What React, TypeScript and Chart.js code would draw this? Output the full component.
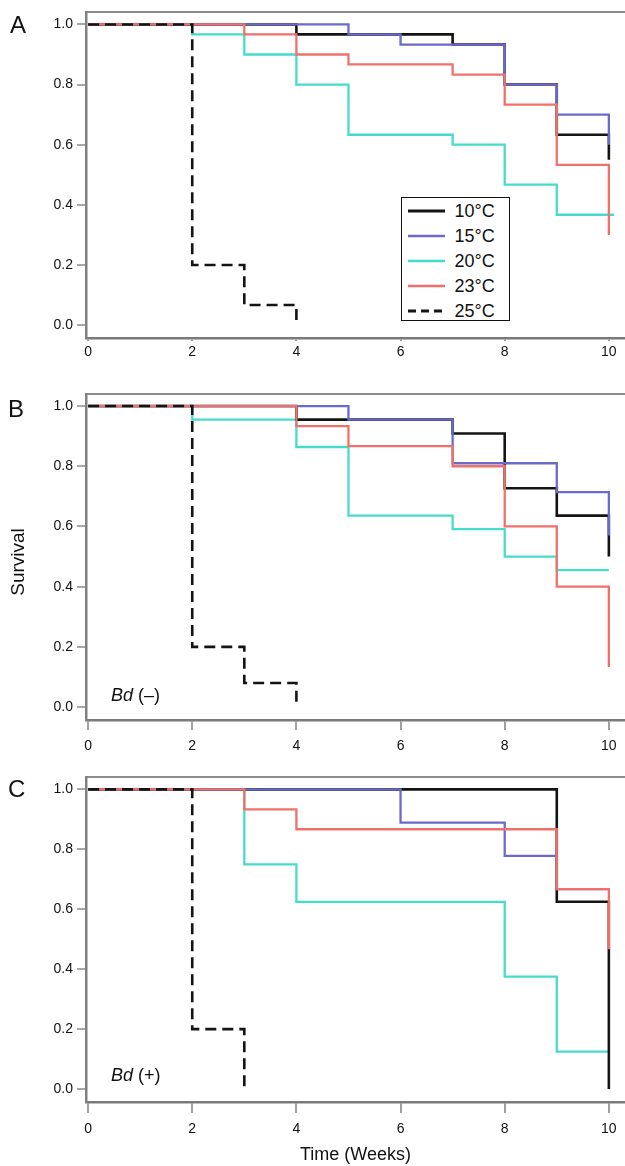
import React, { useEffect, useRef } from "react";
import { Chart, registerables } from "chart.js";

Chart.register(...registerables);

// ---------- data ----------
const seriesLabels = ["10°C", "15°C", "20°C", "23°C", "25°C"];
const seriesColors = ["#141414", "#6b69c9", "#46dccb", "#f0716b", "#141414"];

const xTicks = [0, 2, 4, 6, 8, 10];
const xTickLabels = ["0", "2", "4", "6", "8", "10"];
const yTicks = [0, 0.2, 0.4, 0.6, 0.8, 1.0];
const yTickLabels = ["0.0", "0.2", "0.4", "0.6", "0.8", "1.0"];

// Panel A
const weeksA10 = [0, 4, 7, 8, 9, 10];
const survA10 = [1, 0.967, 0.933, 0.8, 0.633, 0.55];
const weeksA15 = [0, 5, 6, 8, 9, 10];
const survA15 = [1, 0.967, 0.933, 0.8, 0.7, 0.6];
const weeksA20 = [0, 2, 3, 4, 5, 7, 8, 9, 10.1];
const survA20 = [1, 0.967, 0.9, 0.8, 0.633, 0.6, 0.467, 0.367, 0.367];
const weeksA23 = [0, 3, 4, 5, 7, 8, 9, 10];
const survA23 = [1, 0.967, 0.9, 0.867, 0.833, 0.733, 0.533, 0.3];
const weeksA25 = [0, 2, 3, 4];
const survA25 = [1, 0.2, 0.067, 0];

// Panel B  Bd (–)
const weeksB10 = [0, 4, 7, 8, 9, 10];
const survB10 = [1, 0.955, 0.909, 0.727, 0.636, 0.5];
const weeksB15 = [0, 5, 7, 9, 10];
const survB15 = [1, 0.955, 0.81, 0.714, 0.57];
const weeksB20 = [0, 2, 4, 5, 7, 8, 9, 10];
const survB20 = [1, 0.955, 0.864, 0.636, 0.591, 0.5, 0.455, 0.455];
const weeksB23 = [0, 4, 5, 7, 8, 9, 10];
const survB23 = [1, 0.933, 0.867, 0.8, 0.6, 0.4, 0.133];
const weeksB25 = [0, 2, 3, 4];
const survB25 = [1, 0.2, 0.08, 0];

// Panel C  Bd (+)
const weeksC10 = [0, 9, 10];
const survC10 = [1, 0.625, 0];
const weeksC15 = [0, 6, 8, 9, 10];
const survC15 = [1, 0.889, 0.778, 0.667, 0.667];
const weeksC20 = [0, 3, 4, 8, 9, 10];
const survC20 = [1, 0.75, 0.625, 0.375, 0.125, 0.125];
const weeksC23 = [0, 3, 4, 9, 10];
const survC23 = [1, 0.933, 0.867, 0.667, 0.467];
const weeksC25 = [0, 2, 3];
const survC25 = [1, 0.2, 0];

const FONT = "'Liberation Sans', Arial, Helvetica, sans-serif";
// lower = drawn on top
const drawOrder = [3, 2, 4, 1, 0];

type Series = { t: number[]; s: number[] };
type PanelProps = {
  top: number;
  height: number;
  padTop: number;
  xAxisH: number;
  tickLen: number;
  tickPad: number;
  title?: string;
  series: Series[];
};

function Panel(p: PanelProps) {
  const ref = useRef<HTMLCanvasElement | null>(null);
  useEffect(() => {
    if (!ref.current) return;
    const chart = new Chart(ref.current, {
      type: "line",
      data: {
        datasets: p.series.map((sr, i) => ({
          label: seriesLabels[i],
          data: sr.t.map((x, j) => ({ x, y: sr.s[j] })),
          borderColor: seriesColors[i],
          backgroundColor: seriesColors[i],
          borderWidth: i === 0 || i === 4 ? 2.6 : 2.3,
          borderDash: i === 4 ? [11, 6] : [],
          stepped: "before" as const,
          pointRadius: 0,
          fill: false,
          order: drawOrder[i],
        })),
      },
      options: {
        animation: false,
        responsive: false,
        maintainAspectRatio: false,
        layout: { padding: { top: p.padTop, left: 0, right: 0, bottom: 0 } },
        plugins: { legend: { display: false }, tooltip: { enabled: false } },
        scales: {
          x: {
            type: "linear",
            position: "bottom",
            min: -0.04,
            max: 10.31,
            afterBuildTicks: (s: any) => {
              s.ticks = xTicks.map((v) => ({ value: v }));
            },
            afterFit: (s: any) => {
              s.height = p.xAxisH;
            },
            ticks: {
              autoSkip: false,
              maxRotation: 0,
              padding: p.tickPad,
              color: "#111",
              font: { family: FONT, size: 14 },
              callback: (v: any) => {
                const k = xTicks.indexOf(Number(v));
                return k >= 0 ? xTickLabels[k] : "";
              },
            },
            grid: {
              drawOnChartArea: false,
              drawTicks: true,
              tickLength: p.tickLen,
              color: "#a0a0a0",
              lineWidth: 2,
            },
            border: { display: true, color: "#7a7a7a", width: 2.5 },
            title: p.title
              ? {
                  display: true,
                  text: p.title,
                  color: "#111",
                  font: { family: FONT, size: 18 },
                  padding: 0,
                }
              : { display: false },
          },
          xTop: {
            type: "linear",
            position: "top",
            min: -0.04,
            max: 10.31,
            ticks: { display: false },
            grid: { display: false, drawTicks: false },
            border: { display: true, color: "#8c8c8c", width: 2 },
            afterFit: (s: any) => {
              s.height = 0;
            },
          },
          y: {
            type: "linear",
            position: "left",
            min: -0.043,
            max: 1.04,
            afterBuildTicks: (s: any) => {
              s.ticks = yTicks.map((v) => ({ value: v }));
            },
            afterFit: (s: any) => {
              s.width = 86;
            },
            ticks: {
              padding: 4,
              color: "#111",
              font: { family: FONT, size: 14 },
              callback: (v: any) => {
                const k = yTicks.findIndex((t) => Math.abs(t - Number(v)) < 1e-6);
                return k >= 0 ? yTickLabels[k] : "";
              },
            },
            grid: {
              drawOnChartArea: false,
              drawTicks: true,
              tickLength: 9,
              color: "#a8a8a8",
              lineWidth: 2,
            },
            border: { display: true, color: "#808080", width: 2.5 },
          },
        },
      } as any,
    });
    return () => chart.destroy();
  }, []);
  return (
    <canvas
      ref={ref}
      width={625}
      height={p.height}
      style={{ position: "absolute", left: 0, top: p.top, width: 625, height: p.height }}
    />
  );
}

const letterStyle = (left: number, top: number): React.CSSProperties => ({
  position: "absolute",
  left,
  top,
  fontFamily: FONT,
  fontSize: 24,
  lineHeight: "24px",
  color: "#111",
});

const bdStyle = (top: number): React.CSSProperties => ({
  position: "absolute",
  left: 111,
  top,
  fontFamily: FONT,
  fontSize: 18,
  lineHeight: "18px",
  color: "#111",
  whiteSpace: "nowrap",
});

function Legend() {
  return (
    <div
      style={{
        position: "absolute",
        left: 401,
        top: 197,
        width: 109,
        height: 124,
        border: "1.5px solid #111",
        boxSizing: "border-box",
        background: "#fff",
      }}
    >
      {seriesLabels.map((lab, i) => (
        <React.Fragment key={lab}>
          <svg
            width={37}
            height={6}
            style={{ position: "absolute", left: 5.5, top: 10.2 + 25 * i }}
          >
            <line
              x1={0}
              y1={3}
              x2={37}
              y2={3}
              stroke={seriesColors[i]}
              strokeWidth={i === 0 || i === 4 ? 3 : 2.6}
              strokeDasharray={i === 4 ? "8 5" : undefined}
            />
          </svg>
          <div
            style={{
              position: "absolute",
              left: 52.5,
              top: 4.4 + 25 * i,
              fontFamily: FONT,
              fontSize: 18,
              lineHeight: "18px",
              color: "#111",
              whiteSpace: "nowrap",
            }}
          >
            {lab}
          </div>
        </React.Fragment>
      ))}
    </div>
  );
}

export default function App() {
  const panelA: Series[] = [
    { t: weeksA10, s: survA10 },
    { t: weeksA15, s: survA15 },
    { t: weeksA20, s: survA20 },
    { t: weeksA23, s: survA23 },
    { t: weeksA25, s: survA25 },
  ];
  const panelB: Series[] = [
    { t: weeksB10, s: survB10 },
    { t: weeksB15, s: survB15 },
    { t: weeksB20, s: survB20 },
    { t: weeksB23, s: survB23 },
    { t: weeksB25, s: survB25 },
  ];
  const panelC: Series[] = [
    { t: weeksC10, s: survC10 },
    { t: weeksC15, s: survC15 },
    { t: weeksC20, s: survC20 },
    { t: weeksC23, s: survC23 },
    { t: weeksC25, s: survC25 },
  ];
  return (
    <div
      style={{
        position: "absolute",
        left: 0,
        top: 0,
        width: 625,
        height: 1166,
        background: "#fff",
        overflow: "hidden",
      }}
    >
      <Panel top={0} height={375} padTop={10} xAxisH={37} tickLen={3} tickPad={3} series={panelA} />
      <Panel top={380} height={380} padTop={14} xAxisH={40} tickLen={10} tickPad={8} series={panelB} />
      <Panel
        top={765}
        height={401}
        padTop={10}
        xAxisH={64}
        tickLen={11}
        tickPad={8}
        title="Time (Weeks)"
        series={panelC}
      />
      <div style={letterStyle(10, 13)}>A</div>
      <div style={letterStyle(8, 397)}>B</div>
      <div style={letterStyle(8, 777)}>C</div>
      <div
        style={{
          position: "absolute",
          left: 18 - 50,
          top: 561.5 - 10,
          width: 100,
          height: 20,
          lineHeight: "20px",
          textAlign: "center",
          fontFamily: FONT,
          fontSize: 19,
          color: "#111",
          transform: "rotate(-90deg)",
          whiteSpace: "nowrap",
        }}
      >
        Survival
      </div>
      <div style={bdStyle(685.6)}>
        <i>Bd</i> (–)
      </div>
      <div style={bdStyle(1065.6)}>
        <i>Bd</i> (+)
      </div>
      <Legend />
    </div>
  );
}
